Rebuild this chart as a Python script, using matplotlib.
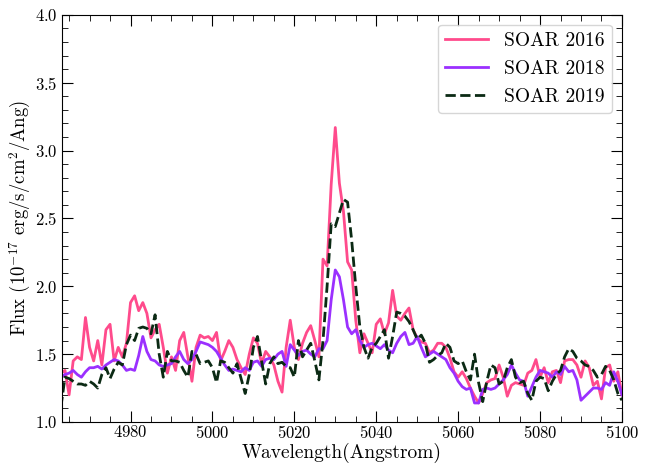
import numpy as np
import matplotlib
matplotlib.use("Agg")
import matplotlib.pyplot as plt
from matplotlib.ticker import MultipleLocator

plt.rcParams['font.family'] = 'serif'
plt.rcParams['font.serif'] = ['cmr10', 'DejaVu Serif']
plt.rcParams['mathtext.fontset'] = 'cm'
plt.rcParams['axes.formatter.use_mathtext'] = True

# wavelength grid (Angstrom), 1 A steps
wavelength = np.arange(4963, 5101, 1)

flux_2016 = [
    1.36, 1.38, 1.20, 1.45, 1.48, 1.46, 1.77, 1.55, 1.45, 1.60,
    1.42, 1.68, 1.72, 1.45, 1.55, 1.48, 1.58, 1.88, 1.93, 1.82,
    1.88, 1.80, 1.62, 1.68, 1.72, 1.55, 1.36, 1.48, 1.38, 1.60,
    1.66, 1.48, 1.30, 1.55, 1.64, 1.62, 1.63, 1.60, 1.66, 1.45,
    1.52, 1.60, 1.55, 1.46, 1.40, 1.35, 1.50, 1.62, 1.58, 1.43,
    1.52, 1.48, 1.42, 1.30, 1.22, 1.55, 1.75, 1.55, 1.46, 1.58,
    1.66, 1.71, 1.60, 1.48, 2.20, 2.15, 2.75, 3.17, 2.76, 2.55,
    2.18, 2.12, 1.75, 1.51, 1.65, 1.58, 1.51, 1.72, 1.76, 1.65,
    1.73, 1.97, 1.78, 1.75, 1.80, 1.84, 1.68, 1.62, 1.59, 1.58,
    1.51, 1.53, 1.58, 1.58, 1.55, 1.47, 1.37, 1.33, 1.37, 1.32,
    1.25, 1.19, 1.14, 1.21, 1.29, 1.31, 1.32, 1.42, 1.33, 1.19,
    1.27, 1.29, 1.28, 1.27, 1.36, 1.38, 1.46, 1.33, 1.40, 1.29,
    1.37, 1.38, 1.29, 1.45, 1.46, 1.46, 1.42, 1.33, 1.45, 1.40,
    1.27, 1.30, 1.17, 1.40, 1.42, 1.30, 1.37, 1.20,
]

flux_2018 = [
    1.33, 1.35, 1.36, 1.38, 1.35, 1.33, 1.37, 1.40, 1.40, 1.41,
    1.39, 1.42, 1.44, 1.46, 1.45, 1.42, 1.38, 1.39, 1.38, 1.49,
    1.63, 1.52, 1.46, 1.45, 1.42, 1.41, 1.42, 1.43, 1.48, 1.52,
    1.46, 1.43, 1.46, 1.52, 1.59, 1.58, 1.57, 1.55, 1.52, 1.47,
    1.42, 1.38, 1.39, 1.38, 1.37, 1.40, 1.38, 1.44, 1.45, 1.41,
    1.46, 1.47, 1.46, 1.50, 1.52, 1.41, 1.57, 1.53, 1.49, 1.52,
    1.53, 1.50, 1.48, 1.54, 1.54, 1.60, 1.90, 2.12, 2.07, 1.90,
    1.70, 1.65, 1.68, 1.60, 1.55, 1.57, 1.58, 1.56, 1.54, 1.57,
    1.53, 1.51, 1.58, 1.63, 1.66, 1.57, 1.58, 1.63, 1.55, 1.48,
    1.50, 1.52, 1.50, 1.48, 1.46, 1.40, 1.36, 1.30, 1.26, 1.24,
    1.25, 1.14, 1.14, 1.24, 1.25, 1.24, 1.25, 1.28, 1.31, 1.35,
    1.42, 1.36, 1.31, 1.30, 1.19, 1.26, 1.33, 1.38, 1.37, 1.36,
    1.33, 1.37, 1.35, 1.41, 1.37, 1.38, 1.31, 1.16, 1.19, 1.22,
    1.25, 1.25, 1.24, 1.29, 1.27, 1.37, 1.30, 1.20,
]

flux_2019 = [
    1.11, 1.33, 1.32, 1.30, 1.28, 1.28, 1.27, 1.30, 1.28, 1.25,
    1.35, 1.40, 1.32, 1.39, 1.44, 1.42, 1.57, 1.64, 1.60, 1.69,
    1.70, 1.69, 1.65, 1.79, 1.50, 1.33, 1.52, 1.45, 1.45, 1.44,
    1.38, 1.33, 1.52, 1.50, 1.43, 1.44, 1.45, 1.40, 1.29, 1.45,
    1.44, 1.40, 1.36, 1.43, 1.32, 1.21, 1.35, 1.55, 1.63, 1.45,
    1.28, 1.43, 1.48, 1.43, 1.44, 1.41, 1.40, 1.33, 1.60, 1.48,
    1.53, 1.58, 1.45, 1.31, 1.60, 2.00, 2.46, 2.44, 2.54, 2.64,
    2.62, 2.34, 2.00, 1.70, 1.55, 1.47, 1.55, 1.58, 1.63, 1.68,
    1.47, 1.63, 1.81, 1.80, 1.78, 1.74, 1.68, 1.61, 1.64, 1.58,
    1.44, 1.46, 1.49, 1.51, 1.58, 1.55, 1.45, 1.43, 1.45, 1.37,
    1.31, 1.50, 1.29, 1.15, 1.30, 1.42, 1.40, 1.28, 1.30, 1.40,
    1.46, 1.33, 1.29, 1.30, 1.21, 1.16, 1.30, 1.33, 1.32, 1.23,
    1.30, 1.35, 1.38, 1.48, 1.54, 1.52, 1.47, 1.45, 1.42, 1.41,
    1.38, 1.33, 1.35, 1.41, 1.38, 1.31, 1.21, 1.16,
]

fig = plt.figure(figsize=(6.54, 4.65), dpi=100)
ax = fig.add_axes([0.095, 0.0925, 0.856, 0.8755])

ax.plot(wavelength, flux_2016, color='#ff4b8c', lw=2, label='SOAR 2016')
ax.plot(wavelength, flux_2018, color='#9b30ff', lw=2, label='SOAR 2018')
ax.plot(wavelength, flux_2019, color='#0b2a14', lw=2, ls='--', label='SOAR 2019')

ax.set_xlim(4963.3, 5100)
ax.set_ylim(1.0, 4.0)
ax.xaxis.set_major_locator(MultipleLocator(20))
ax.xaxis.set_minor_locator(MultipleLocator(5))
ax.yaxis.set_major_locator(MultipleLocator(0.5))
ax.yaxis.set_minor_locator(MultipleLocator(0.1))
ax.tick_params(which='both', direction='in', top=True, right=True, labelsize=12)
ax.tick_params(which='major', length=8)
ax.tick_params(which='minor', length=4)
ax.tick_params(axis='x', pad=1.5)

ax.set_xlabel('Wavelength(Angstrom)', fontsize=14, labelpad=1)
ax.set_ylabel(r'Flux (10$^{-17}$ erg/s/cm$^2$/Ang)', fontsize=13.5, labelpad=1)
ax.legend(loc='upper right', fontsize=14, handlelength=2.2)

fig.savefig('out.png', dpi=100)
